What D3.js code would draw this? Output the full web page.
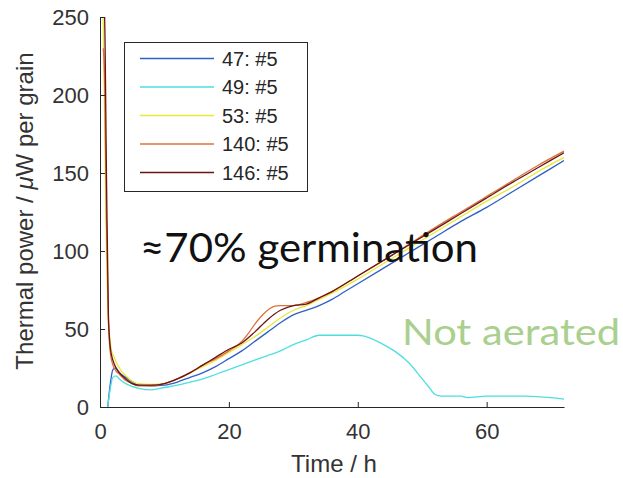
<!DOCTYPE html>
<html>
<head>
<meta charset="utf-8">
<script src="https://cdn.jsdelivr.net/npm/d3@7"></script>
<style>
  body { margin: 0; background: #fff; }
  text { font-family: "Liberation Sans", Arial, sans-serif; }
</style>
</head>
<body>
<svg id="chart"></svg>
<script>
const width = 623;
const height = 478;
const margin = { top: 17, right: 59, bottom: 71, left: 100 };

// readings: time (h) and thermal power (µW per grain)
const time47 = [1.2, 1.6, 2.0, 2.4, 3, 4, 5, 6, 8, 10, 12, 14, 16, 18, 20, 22, 24, 26, 28, 30, 32, 34, 36, 38, 40, 44, 48, 52, 56, 60, 64, 68, 72];
const power47 = [0, 15, 24, 25, 22, 19, 16, 14, 13.5, 14, 16, 19, 22, 26, 31, 36, 42, 48, 54, 59, 62, 65, 69, 74, 79, 89, 99, 109, 119, 128, 138, 148, 158];

const time49 = [1.2, 1.6, 2.0, 2.5, 3, 4, 6, 8, 10, 12, 14, 16, 18, 20, 22, 24, 26, 28, 30, 32, 34, 36, 38, 40, 41, 44, 46, 48, 50, 51, 52, 53, 56, 57, 60, 66, 70, 72];
const power49 = [0, 12, 19, 20, 18, 15, 12, 11, 12.5, 14, 16, 18, 21, 24, 27, 30, 33, 36, 40, 43, 46, 46, 46, 46, 45.5, 40, 35, 28, 18, 13, 8, 7, 7, 6, 7, 7, 6, 5];

const time53 = [0.3, 0.5, 0.8, 1.0, 1.2, 1.5, 1.8, 2.2, 2.6, 3, 4, 5, 6, 8, 10, 12, 14, 16, 18, 20, 22, 24, 26, 28, 30, 32, 34, 36, 40, 44, 48, 52, 56, 60, 64, 68, 72];
const power53 = [258, 245, 160, 100, 65, 45, 36, 32, 28, 25, 20, 16.5, 15, 14.5, 15, 18, 22, 26, 30, 35, 40, 45, 51, 57, 62, 65, 69, 73, 82, 92, 102, 112, 122, 132, 141, 151, 160];

const time140 = [0.5, 0.7, 1.0, 1.3, 1.6, 2, 2.5, 3, 4, 5, 6, 8, 10, 12, 14, 16, 18, 20, 22, 23, 24, 25, 26, 27, 28, 30, 32, 34, 36, 40, 44, 48, 52, 56, 60, 64, 68, 72];
const power140 = [230, 213, 120, 55, 35, 27, 23, 21, 17, 15, 13.5, 13.5, 15, 18, 22, 27, 31, 36, 42, 47, 53, 58, 62, 64.5, 65, 65, 67, 70, 74, 84, 94, 104.5, 115, 125, 135, 145, 155, 164];

const time146 = [0.4, 0.7, 1.0, 1.3, 1.6, 2, 2.5, 3, 4, 5, 6, 8, 10, 12, 14, 16, 18, 20, 22, 24, 26, 28, 30, 32, 34, 36, 40, 44, 48, 52, 56, 60, 64, 68, 72];
const power146 = [262, 252, 150, 60, 38, 30, 25, 22, 18, 15, 14, 14, 15, 18, 22, 27, 32, 37, 41, 48, 56, 62, 65, 66, 70, 74, 84, 94, 104, 114, 124, 134, 144, 153.5, 163];

const seriesNames = ["47: #5", "49: #5", "53: #5", "140: #5", "146: #5"];
const seriesTimes = [time47, time49, time53, time140, time146];
const seriesPowers = [power47, power49, power53, power140, power146];
const seriesColors = ["#2f5fc8", "#4fdede", "#e8e83a", "#e0703a", "#6a1414"];

const xTicks = [0, 20, 40, 60];
const yTicks = [0, 50, 100, 150, 200, 250];

const series = seriesNames.map((name, i) => ({
  name: name,
  color: seriesColors[i],
  points: seriesTimes[i].map((t, j) => [t, seriesPowers[i][j]])
}));

const svg = d3.select("#chart").attr("width", width).attr("height", height);

const x = d3.scaleLinear().domain([0, 72]).range([margin.left, width - margin.right]);
const y = d3.scaleLinear().domain([0, 250]).range([height - margin.bottom, margin.top]);

svg.append("clipPath").attr("id", "plot-clip")
  .append("rect")
  .attr("x", margin.left)
  .attr("y", margin.top)
  .attr("width", width - margin.left - margin.right)
  .attr("height", height - margin.top - margin.bottom);

const line = d3.line()
  .x((d) => x(d[0]))
  .y((d) => y(d[1]))
  .curve(d3.curveMonotoneX);

svg.append("g")
  .attr("clip-path", "url(#plot-clip)")
  .selectAll("path")
  .data(series)
  .enter()
  .append("path")
  .attr("d", (d) => line(d.points))
  .attr("fill", "none")
  .attr("stroke", (d) => d.color)
  .attr("stroke-width", 1.3);

// axes, matlab style: ticks pointing inward
const xAxis = svg.append("g")
  .attr("transform", `translate(0,${height - margin.bottom})`)
  .call(d3.axisBottom(x).tickValues(xTicks).tickSizeInner(-5).tickSizeOuter(0).tickPadding(16));

const yAxis = svg.append("g")
  .attr("transform", `translate(${margin.left},0)`)
  .call(d3.axisLeft(y).tickValues(yTicks).tickSizeInner(-5).tickSizeOuter(0).tickPadding(11));

[xAxis, yAxis].forEach((g) => {
  g.select(".domain").attr("stroke", "#262626");
  g.selectAll(".tick line").attr("stroke", "#262626");
  g.selectAll(".tick text")
    .attr("fill", "#333")
    .style("font-size", "22px")
    .style("font-family", "'Liberation Sans', Arial, sans-serif");
});

svg.append("text")
  .attr("x", 334)
  .attr("y", 472)
  .attr("text-anchor", "middle")
  .attr("fill", "#333")
  .style("font-size", "24px")
  .text("Time / h");

const yLabel = svg.append("text")
  .attr("transform", "translate(33,211) rotate(-90)")
  .attr("text-anchor", "middle")
  .attr("fill", "#333")
  .style("font-size", "24px");
yLabel.append("tspan").text("Thermal power / ");
yLabel.append("tspan").style("font-style", "italic").text("\u03BC");
yLabel.append("tspan").text("W per grain");

// legend
const legend = svg.append("g");
legend.append("rect")
  .attr("x", 124.5)
  .attr("y", 42.5)
  .attr("width", 183)
  .attr("height", 149)
  .attr("fill", "#fff")
  .attr("stroke", "#262626");

const rows = legend.selectAll(".row")
  .data(series)
  .enter()
  .append("g")
  .attr("class", "row")
  .attr("transform", (d, i) => `translate(0,${58.5 + i * 28.5})`);

rows.append("line")
  .attr("x1", 140)
  .attr("x2", 214)
  .attr("stroke", (d) => d.color)
  .attr("stroke-width", 1.3);

rows.append("text")
  .attr("x", 222)
  .attr("dy", "0.35em")
  .attr("fill", "#262626")
  .style("font-size", "20px")
  .text((d) => d.name);

// annotations
svg.append("text")
  .attr("x", 140)
  .attr("y", 262)
  .attr("fill", "#111")
  .attr("textLength", 338)
  .attr("lengthAdjust", "spacingAndGlyphs")
  .style("font-family", "Lato, 'Open Sans', sans-serif")
  .style("font-size", "41px")
  .text("\u224870% germination");

svg.append("text")
  .attr("x", 402)
  .attr("y", 345)
  .attr("fill", "#a9d08e")
  .attr("textLength", 218)
  .attr("lengthAdjust", "spacingAndGlyphs")
  .style("font-family", "Lato, 'Open Sans', sans-serif")
  .style("font-size", "37px")
  .text("Not aerated");
</script>
</body>
</html>
